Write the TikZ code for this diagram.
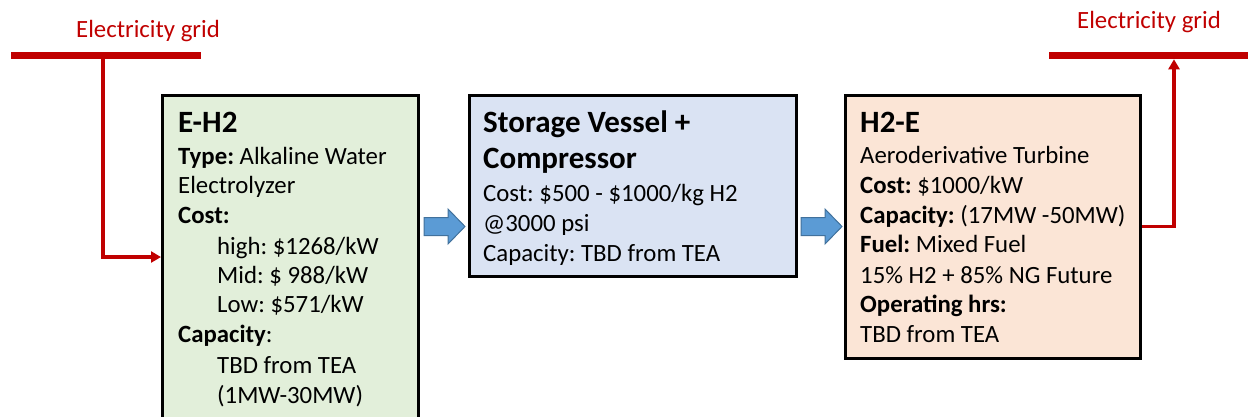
\documentclass[tikz,border=0pt]{standalone}
\usepackage{fontspec}
\setmainfont{Carlito}
\usetikzlibrary{arrows.meta}
\definecolor{gridred}{HTML}{C00000}
\definecolor{boxgreen}{HTML}{E2EFDA}
\definecolor{boxblue}{HTML}{DAE3F3}
\definecolor{boxpeach}{HTML}{FBE5D6}
\definecolor{arrfill}{HTML}{5B9BD5}
\definecolor{arrdraw}{HTML}{41719C}
\frenchspacing
\tikzset{
  box/.style={draw=black, line width=3pt, inner sep=0pt, rectangle},
  txt/.style={anchor=base west, inner sep=0pt, font=\fontsize{24.8}{29.8}\selectfont},
  ttl/.style={anchor=base west, inner sep=0pt, font=\fontsize{31}{37}\selectfont\bfseries},
  gridtxt/.style={anchor=base, inner sep=0pt, text=gridred, font=\fontsize{24.8}{29.8}\selectfont},
  gridbar/.style={draw=gridred, line width=7.6pt},
  feed/.style={draw=gridred, line width=3.5pt, -{Triangle[length=10pt,width=11pt]}},
  blockarrow/.style={fill=arrfill, draw=arrdraw, line width=1pt, line join=miter}
}
\begin{document}
\begin{tikzpicture}[x=1pt,y=-1pt]
\useasboundingbox (0,0) rectangle (1248,416);
% boxes
\node[box, fill=boxgreen, minimum width=255.5pt, minimum height=324pt] (eh2) at (290.25,257) {};
\node[box, fill=boxblue, minimum width=327pt, minimum height=180.5pt] (stor) at (632.5,185.8) {};
\node[box, fill=boxpeach, minimum width=294.7pt, minimum height=263.3pt] (h2e) at (993.3,226.7) {};
% box 1 text
\node[ttl] (t1a) at (178,132) {E-H2};
\node[txt] (t1b) at (178,164) {\textbf{Type:} Alkaline Water};
\node[txt] (t1c) at (178,193) {Electrolyzer};
\node[txt] (t1d) at (178,223) {\textbf{Cost:}};
\node[txt] (t1e) at (217,254) {high: \$1268/kW};
\node[txt] (t1f) at (217,283) {Mid: \$ 988/kW};
\node[txt] (t1g) at (217,312) {Low: \$571/kW};
\node[txt] (t1h) at (178,342) {\textbf{Capacity}:};
\node[txt] (t1i) at (217,373) {TBD from TEA};
\node[txt] (t1j) at (217,403) {(1MW-30MW)};
% box 2 text
\node[ttl] (t2a) at (483,132) {Storage Vessel +};
\node[ttl] (t2b) at (483,168.5) {Compressor};
\node[txt] (t2c) at (483,201.5) {Cost: \$500 - \$1000/kg H2};
\node[txt] (t2d) at (483,231) {@3000 psi};
\node[txt] (t2e) at (483,261.5) {Capacity: TBD from TEA};
% box 3 text
\node[ttl] (t3a) at (860,132) {H2-E};
\node[txt] (t3b) at (860,163) {Aeroderivative Turbine};
\node[txt] (t3c) at (860,193) {\textbf{Cost:} \$1000/kW};
\node[txt] (t3d) at (860,223) {\textbf{Capacity:} (17MW -50MW)};
\node[txt] (t3e) at (860,252) {\textbf{Fuel:} Mixed Fuel};
\node[txt] (t3f) at (860,283) {15\% H2 + 85\% NG Future};
\node[txt] (t3g) at (860,312) {\textbf{Operating hrs:}};
\node[txt] (t3h) at (860,342) {TBD from TEA};
% left grid
\node[gridtxt] (g1t) at (148,37.3) {Electricity grid};
\coordinate (g1a) at (11,55.5);
\coordinate (g1b) at (201,55.5);
\draw[gridbar] (g1a) -- (g1b);
\coordinate (g1tap) at (103,55.5);
\draw[feed] (g1tap) |- (eh2.west);
% right grid
\node[gridtxt] (g2t) at (1149,28.5) {Electricity grid};
\coordinate (g2a) at (1049,55.5);
\coordinate (g2b) at (1250,55.5);
\draw[gridbar] (g2a) -- (g2b);
\coordinate (g2tap) at (1174,59.3);
\draw[feed] (h2e.east) -| (g2tap);
% block arrows
\coordinate (a1) at (424,226.5);
\coordinate (a2) at (801,226.5);
\draw[blockarrow] (a1) ++(0,-9) -- ++(24,0) -- ++(0,-8.5) -- ++(17,17.5) -- ++(-17,17.5) -- ++(0,-8.5) -- ++(-24,0) -- cycle;
\draw[blockarrow] (a2) ++(0,-9) -- ++(24,0) -- ++(0,-8.5) -- ++(17,17.5) -- ++(-17,17.5) -- ++(0,-8.5) -- ++(-24,0) -- cycle;
\end{tikzpicture}
\end{document}
